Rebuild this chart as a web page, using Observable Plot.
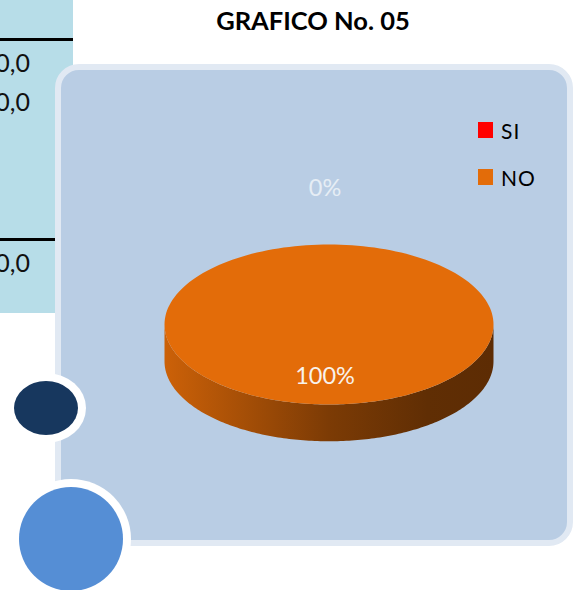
<!DOCTYPE html>
<html>
<head>
<meta charset="utf-8">
<script src="https://cdn.jsdelivr.net/npm/d3@7"></script>
<script src="https://cdn.jsdelivr.net/npm/@observablehq/plot@0.6"></script>
<style>
  body { margin: 0; background: #ffffff; font-family: Lato, "Open Sans", sans-serif; }
  #page { position: relative; width: 573px; height: 590px; overflow: hidden; background: #fff; }
  .abs { position: absolute; }
  #tablebg { left: 0; top: 0; width: 73px; height: 313px; background: #b7dde8; }
  .rule { left: 0; height: 3px; background: #000; }
  .cellval { right: 543px; font-size: 25px; color: #111; line-height: 30px; white-space: nowrap; }
  #panel { left: 55px; top: 64px; width: 518px; height: 482px; box-sizing: border-box;
           border: 6px solid #e1e9f3; border-radius: 24px; background: #b9cde4; }
  .ell { border-radius: 50%; }
  #title { left: 163px; width: 300px; top: 4px; text-align: center; font-weight: 700; font-size: 25.5px; line-height: 32px; color: #000; }
  #legend { left: 478px; top: 118px; }
  .lrow { display: flex; align-items: center; height: 24px; margin-bottom: 23px; }
  .sw { width: 15px; height: 16px; margin-right: 8px; }
  .lt { font-size: 21px; color: #000; letter-spacing: 1px; }
  #chart { left: 0; top: 0; }
</style>
</head>
<body>
<div id="page">
  <div id="tablebg" class="abs"></div>
  <div class="abs rule" style="top:38px;width:73px"></div>
  <div class="abs rule" style="top:238px;width:57px"></div>
  <div id="cells"></div>
  <div id="panel" class="abs"></div>
  <div class="abs ell" style="left:6px;top:373px;width:80px;height:70px;background:#fff"></div>
  <div class="abs ell" style="left:14px;top:381px;width:64px;height:54px;background:#17375e"></div>
  <div class="abs ell" style="left:11px;top:479px;width:120px;height:120px;background:#fff"></div>
  <div class="abs ell" style="left:19px;top:487px;width:104px;height:104px;background:#558ed5"></div>
  <div id="title" class="abs"></div>
  <div id="legend" class="abs"></div>
  <div id="chart" class="abs"></div>
</div>
<script>
// ---- data ----
const title = "GRAFICO No. 05";
const categories = ["SI", "NO"];
const values = [0, 100];
const percentLabels = ["0%", "100%"];
const colors = ["#ff0000", "#e36c09"];
const tableValues = ["0,0", "0,0", "0,0"];
const tableTops = [47, 86, 247];

// ---- decorations / text ----
document.getElementById("title").textContent = title;
const cells = document.getElementById("cells");
tableValues.forEach((v, i) => {
  const d = document.createElement("div");
  d.className = "abs cellval";
  d.style.top = tableTops[i] + "px";
  d.textContent = v;
  cells.appendChild(d);
});
const legend = document.getElementById("legend");
categories.forEach((c, i) => {
  const row = document.createElement("div");
  row.className = "lrow";
  row.innerHTML = `<div class="sw" style="background:${colors[i]}"></div><span class="lt">${c}</span>`;
  legend.appendChild(row);
});

// ---- pie geometry (tilted 3D) ----
const arcs = d3.pie().sort(null)(values);
const depth = 0.46; // wall height in units of the vertical radius
const N = 180;
const topPolys = [], sidePolys = [];
arcs.forEach((a, i) => {
  const a0 = a.startAngle, a1 = a.endAngle;
  if (a1 - a0 > 0) {
    const pts = [{x: 0, y: 0}];
    for (let k = 0; k <= N; k++) {
      const t = a0 + (a1 - a0) * k / N;
      pts.push({x: Math.sin(t), y: -Math.cos(t)});
    }
    pts.push({x: 0, y: 0});
    topPolys.push({i, pts});
  }
  const lo = Math.max(a0, Math.PI / 2), hi = Math.min(a1, 3 * Math.PI / 2);
  if (hi > lo) {
    const up = [], down = [];
    for (let k = 0; k <= N; k++) {
      const t = lo + (hi - lo) * k / N;
      up.push({x: Math.sin(t), y: -Math.cos(t)});
      down.push({x: Math.sin(t), y: -Math.cos(t) + depth});
    }
    sidePolys.push({i, pts: up.concat(down.reverse())});
  }
});

const labelData = arcs.map((a, i) => {
  const mid = (a.startAngle + a.endAngle) / 2;
  const r = a.value > 0 ? 0.65 : 1.7;
  return {x: Math.sin(mid) * r, y: -Math.cos(mid) * r, text: percentLabels[i], inside: a.value > 0};
});

const marks = [];
sidePolys.forEach(s => marks.push(
  Plot.line(s.pts, {x: "x", y: "y", fill: `url(#side-${s.i})`, stroke: "none", curve: "linear"})
));
topPolys.forEach(s => marks.push(
  Plot.line(s.pts, {x: "x", y: "y", fill: colors[s.i], stroke: "none", curve: "linear"})
));
marks.push(Plot.text(labelData, {
  x: "x", y: "y", text: "text", dx: -4,
  fill: d => d.inside ? "#f8f2ec" : "#e6edf5",
  fontSize: 23.5, fontFamily: "Lato, 'Open Sans', sans-serif"
}));

const chart = Plot.plot({
  width: 573, height: 590, margin: 0,
  x: {domain: [-1, 1], range: [164, 493], axis: null},
  y: {domain: [-1, 1], range: [244, 404], axis: null},
  color: {type: "identity"},
  style: {background: "transparent", overflow: "visible"},
  marks
});

const defs = d3.select(chart).insert("defs", ":first-child");
colors.forEach((c, i) => {
  const g = defs.append("linearGradient").attr("id", `side-${i}`)
    .attr("x1", "0").attr("x2", "1").attr("y1", "0").attr("y2", "0");
  const base = d3.color(c);
  [[0, 0.3], [0.5, 1.7], [0.8, 2.4], [1, 2.5]].forEach(([o, k]) => {
    g.append("stop").attr("offset", o).attr("stop-color", base.darker(k).formatHex());
  });
});

document.getElementById("chart").appendChild(chart);
</script>
</body>
</html>
